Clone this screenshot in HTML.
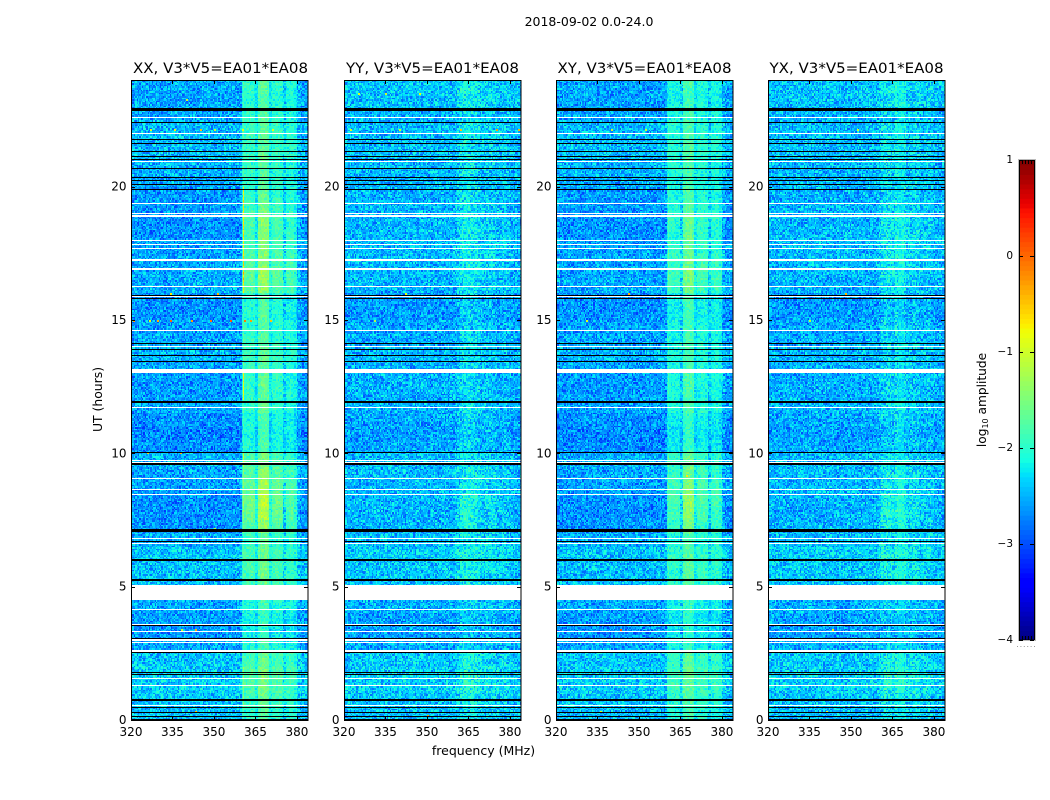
<!DOCTYPE html>
<html lang="en">
<head>
<meta charset="utf-8">
<title>2018-09-02 dynamic spectra</title>
<style>
html,body{margin:0;padding:0;background:#fff;}
#figure{position:relative;width:1050px;height:800px;overflow:hidden;background:#fff;font-family:"DejaVu Sans","Liberation Sans",sans-serif;filter:blur(0.35px);}
canvas{position:absolute;top:80px;image-rendering:pixelated;}
svg{position:absolute;left:0;top:0;}
text{font-family:"DejaVu Sans","Liberation Sans",sans-serif;fill:#000;}
</style>
</head>
<body>
<div id="figure">
<canvas id="c0" width="177" height="640" style="left:131px"></canvas>
<canvas id="c1" width="177" height="640" style="left:344px"></canvas>
<canvas id="c2" width="177" height="640" style="left:556px"></canvas>
<canvas id="c3" width="177" height="640" style="left:768px"></canvas>
<svg id="ov" width="1050" height="800" viewBox="0 0 1050 800">
<text x="589" y="26" text-anchor="middle" font-size="12.5">2018-09-02 0.0-24.0</text>
<text x="220.5" y="73" text-anchor="middle" font-size="14.5" textLength="175" lengthAdjust="spacingAndGlyphs">XX, V3*V5=EA01*EA08</text>
<text x="432.5" y="73" text-anchor="middle" font-size="14.5" textLength="173" lengthAdjust="spacingAndGlyphs">YY, V3*V5=EA01*EA08</text>
<text x="644.5" y="73" text-anchor="middle" font-size="14.5" textLength="174" lengthAdjust="spacingAndGlyphs">XY, V3*V5=EA01*EA08</text>
<text x="856.5" y="73" text-anchor="middle" font-size="14.5" textLength="174" lengthAdjust="spacingAndGlyphs">YX, V3*V5=EA01*EA08</text>
<text x="483.5" y="755" text-anchor="middle" font-size="12.5">frequency (MHz)</text>
<text transform="translate(102,399.5) rotate(-90)" text-anchor="middle" font-size="12.4">UT (hours)</text>
<text transform="translate(986,400) rotate(-90)" text-anchor="middle" font-size="12.2">log<tspan font-size="8" dy="2">10</tspan><tspan dy="-2"> amplitude</tspan></text>
</svg>
</div>
<script>
// ---- axis data ----
const freqTicks = [320, 335, 350, 365, 380];
const hourTicks = [0, 5, 10, 15, 20];
const colorTicks = [1, 0, -1, -2, -3, -4];
const colorTickLabels = ['1', '0', '\u22121', '\u22122', '\u22123', '\u22124'];

// ---- flagged integrations (UT hours) ----
const blackLines = [22.41,21.776,21.626,21.326,21.124,21.027,20.69,20.337,20.24,20.09,19.9,15.93,15.79,14.13,13.91,13.68,13.46,10.04,9.6,6.71,6.0,5.25,3.54,3.065,2.52,1.78,1.69,0.47,0.27,0.14,0.03];
const blackBands = [[22.855,22.967],[11.87,11.95],[7.06,7.15],[0.7,0.78]];
const whiteLines = [22.585,22.0,20.94,19.38,18.98,18.9,17.98,17.84,17.67,17.25,16.27,15.87,14.62,13.99,11.73,9.73,9.67,9.06,8.44,6.8,6.61,4.13,3.57,3.33,3.0,2.915,1.54,1.3,0.54];
const whiteBands = [[16.88,16.94],[13.0,13.16],[8.61,8.67],[4.51,5.07],[2.54,2.64]];

// ---- estimated mean log10 amplitude per half hour (0-24 UT) ----
const backgroundX = [-2.4,-2.35,-2.3,-2.3,-2.35,-2.5,-2.58,-2.56,-2.5,-2.5,-2.4,-2.38,-2.35,-2.45,-2.6,-2.62,-2.6,-2.54,-2.5,-2.45,-2.62,-2.66,-2.62,-2.5,-2.56,-2.56,-2.52,-2.45,-2.5,-2.54,-2.6,-2.6,-2.48,-2.5,-2.5,-2.54,-2.6,-2.6,-2.56,-2.56,-2.48,-2.45,-2.4,-2.4,-2.42,-2.5,-2.52,-2.5];
const backgroundY = [-2.4,-2.36,-2.3,-2.3,-2.34,-2.48,-2.54,-2.52,-2.46,-2.46,-2.36,-2.34,-2.3,-2.38,-2.44,-2.46,-2.44,-2.42,-2.4,-2.4,-2.5,-2.54,-2.5,-2.44,-2.46,-2.46,-2.46,-2.44,-2.48,-2.5,-2.56,-2.56,-2.44,-2.42,-2.4,-2.4,-2.42,-2.44,-2.44,-2.46,-2.44,-2.42,-2.4,-2.4,-2.42,-2.44,-2.38,-2.36];

// ---- estimated strength of the interference band per half hour ----
const bandGainX = [0.7,0.75,0.8,0.85,0.8,0.72,0.68,0.68,0.7,0.7,0.85,0.85,0.78,0.8,1.3,1.5,1.55,1.35,1.15,1.0,0.88,0.88,0.85,0.9,0.95,0.95,0.85,0.85,0.85,0.85,0.9,0.9,1.15,1.25,1.15,1.1,1.2,1.25,1.05,0.95,0.78,0.78,0.78,0.78,0.78,0.8,0.8,0.85];
const bandGainY = [0.7,0.75,1.0,1.0,0.85,0.6,0.6,0.6,0.65,0.65,1.0,1.0,0.9,0.8,1.4,1.6,1.4,1.0,0.9,0.8,0.8,0.8,0.85,0.85,0.8,0.8,0.8,0.8,0.85,0.85,0.85,0.85,0.9,1.0,1.0,1.0,1.1,1.1,0.9,0.9,0.9,0.9,0.85,0.85,0.85,0.85,0.9,0.9];

// ---- estimated band shape, 1 MHz bins from 360 to 383 MHz ----
const spectrumXX = [0.55,0.65,0.68,0.68,0.65,0.38,0.92,1.0,1.0,0.92,0.42,0.62,0.68,0.68,0.62,0.3,0.52,0.58,0.58,0.45,0.12,0.04,0,0];
const spectrumYY = [0.06,0.14,0.24,0.3,0.32,0.28,0.26,0.24,0.2,0.14,0.1,0.13,0.16,0.16,0.13,0.06,0.06,0.1,0.1,0.06,0.02,0,0,0];
const spectrumXY = [0.45,0.52,0.52,0.52,0.5,0.3,0.78,0.85,0.85,0.78,0.36,0.52,0.58,0.58,0.52,0.26,0.46,0.52,0.52,0.42,0.1,0.02,0,0];
const spectrumYX = [0.12,0.22,0.27,0.28,0.26,0.18,0.3,0.32,0.32,0.28,0.13,0.17,0.18,0.18,0.15,0.07,0.09,0.12,0.12,0.07,0.02,0,0,0];

// ---- extra amplitude of the narrow 360.5 MHz line per half hour ----
const lineXX = [0.2,0.4,0.4,0.4,0.2,0.2,0.1,0.1,0.1,0.1,0.2,0.2,0.2,0.2,0.4,0.4,0.4,0.4,0.4,0.9,0.3,0.3,0.3,0.3,1.3,1.3,0.3,0.3,0.3,0.3,0.2,0.2,1.1,1.3,1.3,1.3,1.3,1.3,1.3,1.3,0.3,0.2,0.2,0.2,0.2,0.2,0.2,0.2];
const lineXY = [0.1,0.15,0.15,0.15,0.1,0.1,0.05,0.05,0.05,0.05,0.1,0.1,0.1,0.1,0.15,0.15,0.15,0.15,0.15,0.3,0.15,0.15,0.15,0.15,0.3,0.3,0.15,0.15,0.15,0.15,0.1,0.1,0.25,0.3,0.3,0.3,0.3,0.3,0.3,0.3,0.15,0.1,0.1,0.1,0.1,0.1,0.1,0.1];
const lineNone = [0,0,0,0,0,0,0,0,0,0,0,0,0,0,0,0,0,0,0,0,0,0,0,0,0,0,0,0,0,0,0,0,0,0,0,0,0,0,0,0,0,0,0,0,0,0,0,0];

// ---- individual bright samples: [UT hour, MHz, log10 amplitude] ----
const hotXX = [[15,320.8,-0.3],[15,326.6,-0.9],[15,329.3,-0.4],[15,334.1,0],[15,341.6,-0.3],[15,348.6,-0.1],[15,355.8,0.1],[15,360.9,-0.1],[15,363,-0.3],[15,370.3,-0.5],[22.15,327,-0.9],[22.15,335.5,-0.7],[22.15,345,-0.5],[22.15,350,-1],[22.15,360,-0.8],[22.15,371,-0.8],[10.05,325.7,-0.6],[10.05,337.7,-0.5],[3.43,338,-1],[3.43,343.3,-0.4],[16,351,-0.4],[16,334,-0.7],[0.35,343.3,-0.5],[23.3,340,-1],[7.2,350,-1.1]];
const hotYY = [[22.15,322,-0.9],[22.15,340,-0.9],[22.15,362,-0.5],[22.15,375,-0.3],[22.15,383,-0.4],[23.5,325,-0.9],[23.5,335,-1],[23.5,347,-0.8],[0.2,350,-0.3],[16,342,-0.9],[15,331,-1.2]];
const hotXY = [[3.43,343,0.2],[15,331,-0.9],[16,346,-0.4],[22.15,340,-1],[22.15,352,-1],[9.2,367,-0.7],[0.35,336,-0.9]];
const hotYX = [[3.43,343,-0.7],[16,348,-0.4],[22.15,352,-1],[15,335,-1.1],[0.35,341,-0.9]];

// ---- noise texture: sample-to-sample scatter around the means, not read per cell ----
const speckleLevels = [-0.48,-0.33,-0.22,-0.15,-0.07,-0.01,0.05,0.11,0.2,0.32];
const speckleDigits = "3141592653589793238462643383279502884197169399375105820974944592307816406286208998628034825342117067982148086513282306647093844609550582231725359408128481117450284102701938521105559644622948954930381964428810975665933446128475648233786783165271201909145648566923460348610454326648213393607260249141273724587006606315588174881520920962829254091715364367892590360011330530548820466521384146951941511609433057270365759591953092186117381932611793105118548074462379962749567351885752724891227938183011949129833673362440656643086021394946395224737190702179860943702770539217176293176752384674818467669405132";

// ---- rendering ----
const panelDefs = [
  {left:131, background:backgroundX, gain:bandGainX, spectrum:spectrumXX, line:lineXX, hot:hotXX, shift:0},
  {left:344, background:backgroundY, gain:bandGainY, spectrum:spectrumYY, line:lineNone, hot:hotYY, shift:137},
  {left:556, background:backgroundX, gain:bandGainX, spectrum:spectrumXY, line:lineXY, hot:hotXY, shift:291},
  {left:768, background:backgroundY, gain:bandGainY, spectrum:spectrumYX, line:lineNone, hot:hotYX, shift:443}
];
const plotW = 177, plotH = 640, plotTop = 80, nCols = 128, nRows = 400;
const fMin = 320, fMax = 384, tMax = 24, vMin = -4, vMax = 1;
const xPx = f => (f - fMin) / (fMax - fMin) * plotW;
const yPx = t => plotH - t / tMax * plotH;

const interp = (pts, p) => {
  for (let i = 1; i < pts.length; i++) {
    if (p <= pts[i][0]) {
      return pts[i-1][1] + (pts[i][1] - pts[i-1][1]) * (p - pts[i-1][0]) / (pts[i][0] - pts[i-1][0]);
    }
  }
  return pts[pts.length-1][1];
};
const jetR = [[0,0],[0.35,0],[0.66,1],[0.89,1],[1,0.5]];
const jetG = [[0,0],[0.125,0],[0.375,1],[0.64,1],[0.91,0],[1,0]];
const jetB = [[0,0.5],[0.11,1],[0.34,1],[0.65,0],[1,0]];
const jetCss = p => {
  const q = Math.min(1, Math.max(0, p));
  return 'rgb(' + Math.round(interp(jetR,q)*255) + ',' + Math.round(interp(jetG,q)*255) + ',' + Math.round(interp(jetB,q)*255) + ')';
};
const lut = [];
for (let i = 0; i < 256; i++) lut.push(jetCss(i / 255));
const colorOf = v => lut[Math.max(0, Math.min(255, Math.round((v - vMin) / (vMax - vMin) * 255)))];

const N = speckleDigits.length;
panelDefs.forEach((p, idx) => {
  const ctx = document.getElementById('c' + idx).getContext('2d');
  ctx.fillStyle = '#fff';
  ctx.fillRect(0, 0, plotW, plotH);
  const cw = plotW / nCols;
  for (let r = 0; r < nRows; r++) {
    const hour = (r + 0.5) / nRows * tMax;
    const hb = Math.min(47, Math.floor(hour * 2));
    const y0 = Math.round(yPx((r + 1) / nRows * tMax));
    const y1 = Math.round(yPx(r / nRows * tMax));
    for (let c = 0; c < nCols; c++) {
      const f = fMin + (c + 0.5) * (fMax - fMin) / nCols;
      const bin = Math.floor(f) - 360;
      let v = p.background[hb];
      let scatter = 1;
      if (bin >= 0 && bin < p.spectrum.length) {
        const s = p.spectrum[bin];
        v += s * p.gain[hb];
        if (s > 0.3) scatter = 0.6;
      }
      if (c === 81) v += p.line[hb];
      const d1 = +speckleDigits[(c + r * 389 + p.shift) % N];
      const d2 = +speckleDigits[(c * 3 + r * 211 + p.shift + 500) % N];
      v += speckleLevels[(d1 + d2) % 10] * scatter;
      ctx.fillStyle = colorOf(v);
      const x0 = Math.round(c * cw), x1 = Math.round((c + 1) * cw);
      ctx.fillRect(x0, y0, x1 - x0, y1 - y0);
    }
  }
  p.hot.forEach(h => {
    ctx.fillStyle = colorOf(h[2]);
    ctx.fillRect(Math.round(xPx(h[1])), Math.round(yPx(h[0])), 2, 2);
  });
  const band = (t0, t1, color) => {
    const a = Math.round(yPx(t1)), b = Math.round(yPx(t0));
    ctx.fillStyle = color;
    ctx.fillRect(0, a, plotW, Math.max(1, b - a));
  };
  whiteBands.forEach(b => band(b[0], b[1], '#fff'));
  whiteLines.forEach(t => band(t - 0.02, t + 0.02, '#fff'));
  blackBands.forEach(b => band(b[0], b[1], '#000'));
  blackLines.forEach(t => band(t - 0.02, t + 0.02, '#000'));
});

const svgNS = 'http://www.w3.org/2000/svg';
const ov = document.getElementById('ov');
const make = (tag, attrs) => {
  const el = document.createElementNS(svgNS, tag);
  Object.keys(attrs).forEach(k => el.setAttribute(k, attrs[k]));
  ov.appendChild(el);
  return el;
};

panelDefs.forEach((p, idx) => {
  const frame = make('rect', {x:p.left+0.5, y:plotTop+0.5, width:plotW-0.5, height:plotH, fill:'none', stroke:'#000', 'stroke-width':1});
  
  
  freqTicks.forEach(f => {
    const x = Math.round(p.left + xPx(f)) + 0.5;
    [[plotTop, plotTop + 4], [plotTop + plotH - 3, plotTop + plotH]].forEach(s => {
      const tick = make('line', {x1:x, x2:x, y1:s[0], y2:s[1], stroke:'#000', 'stroke-width':1});
      
      
    });
    const label = make('text', {x:p.left + xPx(f), y:736, 'text-anchor':'middle', 'font-size':12});
    label.textContent = String(f);
    
    
  });
  hourTicks.forEach(t => {
    const y = Math.round(plotTop + yPx(t)) + 0.5;
    [[p.left, p.left + 4], [p.left + plotW - 4, p.left + plotW]].forEach(s => {
      const tick = make('line', {x1:s[0], x2:s[1], y1:y, y2:y, stroke:'#000', 'stroke-width':1});
      
      
    });
    const label = make('text', {x:p.left - 4.5, y:plotTop + yPx(t) + 4, 'text-anchor':'end', 'font-size':12});
    label.textContent = String(t);
    
    
  });
});

// ---- colour bar ----
const cbLeft = 1019, cbW = 15, cbTop = 160, cbH = 480, cbLevels = 100;
const cbY = v => cbTop + (vMax - v) / (vMax - vMin) * cbH;
for (let i = 0; i < cbLevels; i++) {
  const vLow = vMin + i * (vMax - vMin) / cbLevels;
  const vHigh = vMin + (i + 1) * (vMax - vMin) / cbLevels;
  const seg = make('rect', {x:cbLeft, y:cbY(vHigh), width:cbW, height:cbY(vLow) - cbY(vHigh) + (i ? 0.5 : 0), fill:colorOf((vLow + vHigh) / 2)});
  
  
}
const cbFrame = make('rect', {x:cbLeft+0.5, y:cbTop, width:cbW, height:cbH, fill:'none', stroke:'#000', 'stroke-width':1});


const cbEdge = make('rect', {x:cbLeft-0.5, y:cbTop-0.5, width:cbW+2, height:cbH+1, fill:'none', stroke:'#bbb', 'stroke-width':1});


colorTicks.forEach((v, i) => {
  const y = Math.round(cbY(v)) + 0.5;
  [[cbLeft, cbLeft + 4], [cbLeft + cbW - 4, cbLeft + cbW]].forEach(s => {
    const tick = make('line', {x1:s[0], x2:s[1], y1:y, y2:y, stroke:'#000', 'stroke-width':1});
    
    
  });
  const label = make('text', {x:1013, y:cbY(v) + 3, 'text-anchor':'end', 'font-size':10.5});
  label.textContent = colorTickLabels[i];
  
  
});
[1022.5, 1025.5, 1028.5, 1031.5].forEach(x => {
  [[cbTop, cbTop + 4], [cbTop + cbH - 4, cbTop + cbH]].forEach(s => {
    const tick = make('line', {x1:x, x2:x, y1:s[0], y2:s[1], stroke:'#000', 'stroke-width':1});
    
    
  });
});
const dots = make('line', {x1:1017, x2:1036, y1:646.5, y2:646.5, stroke:'#999', 'stroke-width':1, 'stroke-dasharray':'1 2.4'});


</script>
</body>
</html>
